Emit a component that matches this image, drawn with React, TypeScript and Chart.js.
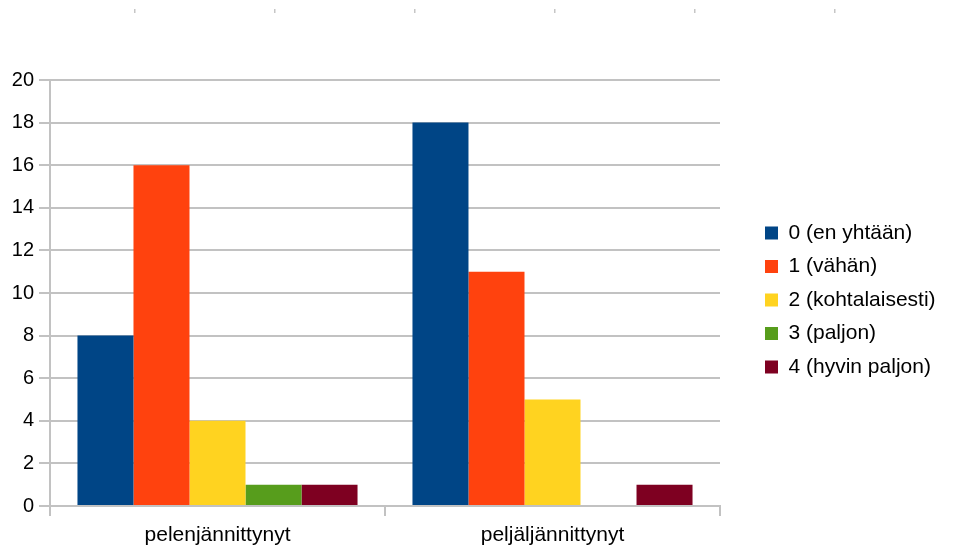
import React, { useEffect, useRef } from "react";
import { Chart, registerables } from "chart.js";

Chart.register(...registerables);

// Survey answers per category
const categories = ["pelenjännittynyt", "peljäljännittynyt"];
const seriesNames = [
  "0 (en yhtään)",
  "1 (vähän)",
  "2 (kohtalaisesti)",
  "3 (paljon)",
  "4 (hyvin paljon)",
];
const seriesColors = ["#004586", "#ff420e", "#ffd320", "#579d1c", "#7e0021"];
const answers0 = [8, 18];
const answers1 = [16, 11];
const answers2 = [4, 5];
const answers3 = [1, 0];
const answers4 = [1, 1];
const seriesValues = [answers0, answers1, answers2, answers3, answers4];

const yMin = 0;
const yMax = 20;
const yStep = 2;

const FONT = '"Liberation Sans", Arial, sans-serif';
const GRID = "#c2c2c2";

// Fixes the legend column width and places it beside the plot
const legendPlacement = {
  id: "legendPlacement",
  beforeLayout(chart: any) {
    const lg = chart.legend;
    if (lg && !lg.__fixedWidth) {
      const orig = lg.fit.bind(lg);
      lg.fit = function () {
        orig();
        this.width = 236;
      };
      lg.__fixedWidth = true;
    }
  },
  afterLayout(chart: any) {
    const lg = chart.legend;
    if (!lg) return;
    const area = chart.chartArea;
    lg.left = area.right + 32.5;
    lg.right = chart.width;
    lg.top = 210;
    lg.bottom = chart.height;
  },
};

// Small header ruler marks along the top edge
const headerMarks = {
  id: "headerMarks",
  afterDraw(chart: any) {
    const ctx = chart.ctx;
    ctx.save();
    ctx.fillStyle = "#c6c6c6";
    for (let i = 0; i < 6; i++) {
      ctx.fillRect(134 + 140 * i, 9, 1.5, 4);
    }
    ctx.restore();
  },
};

export default function App() {
  const canvasRef = useRef<HTMLCanvasElement | null>(null);

  useEffect(() => {
    document.body.style.margin = "0";
    const canvas = canvasRef.current;
    if (!canvas) return;

    const chart = new Chart(canvas, {
      type: "bar",
      data: {
        labels: categories,
        datasets: seriesNames.map((name, i) => ({
          label: name,
          data: seriesValues[i],
          backgroundColor: seriesColors[i],
          borderWidth: 0,
          categoryPercentage: 0.836,
          barPercentage: 1,
        })),
      },
      options: {
        animation: false,
        responsive: false,
        maintainAspectRatio: false,
        devicePixelRatio: 1,
        layout: { padding: { top: 80, left: 0, right: 0, bottom: 0 } },
        plugins: {
          tooltip: { enabled: false },
          legend: {
            position: "right",
            align: "start",
            labels: {
              boxWidth: 13,
              boxHeight: 13,
              padding: 12.5,
              color: "#000000",
              font: { family: FONT, size: 21 },
            },
          },
        },
        scales: {
          x: {
            offset: true,
            afterFit: (scale: any) => {
              scale.height = 44;
            },
            grid: {
              offset: true,
              drawOnChartArea: true,
              color: (ctx: any) =>
                ctx.index === 0 || ctx.index === categories.length ? GRID : "rgba(0,0,0,0)",
              tickColor: GRID,
              lineWidth: 2,
              tickLength: 10,
            },
            border: { display: true, color: GRID, width: 2 },
            ticks: {
              color: "#000000",
              font: { family: FONT, size: 21 },
              padding: 7,
              maxRotation: 0,
            },
          },
          y: {
            min: yMin,
            max: yMax,
            afterFit: (scale: any) => {
              scale.width = 50;
            },
            grid: {
              color: GRID,
              lineWidth: 2,
              tickLength: 11,
            },
            border: { display: true, color: GRID, width: 2 },
            ticks: {
              stepSize: yStep,
              color: "#000000",
              padding: 5,
              font: { family: FONT, size: 20 },
            },
          },
        },
      },
      plugins: [legendPlacement, headerMarks],
    });

    return () => chart.destroy();
  }, []);

  return (
    <div style={{ position: "absolute", left: 0, top: 0, width: 956, height: 550, background: "#ffffff" }}>
      <canvas ref={canvasRef} width={956} height={550} style={{ width: 956, height: 550 }} />
    </div>
  );
}
